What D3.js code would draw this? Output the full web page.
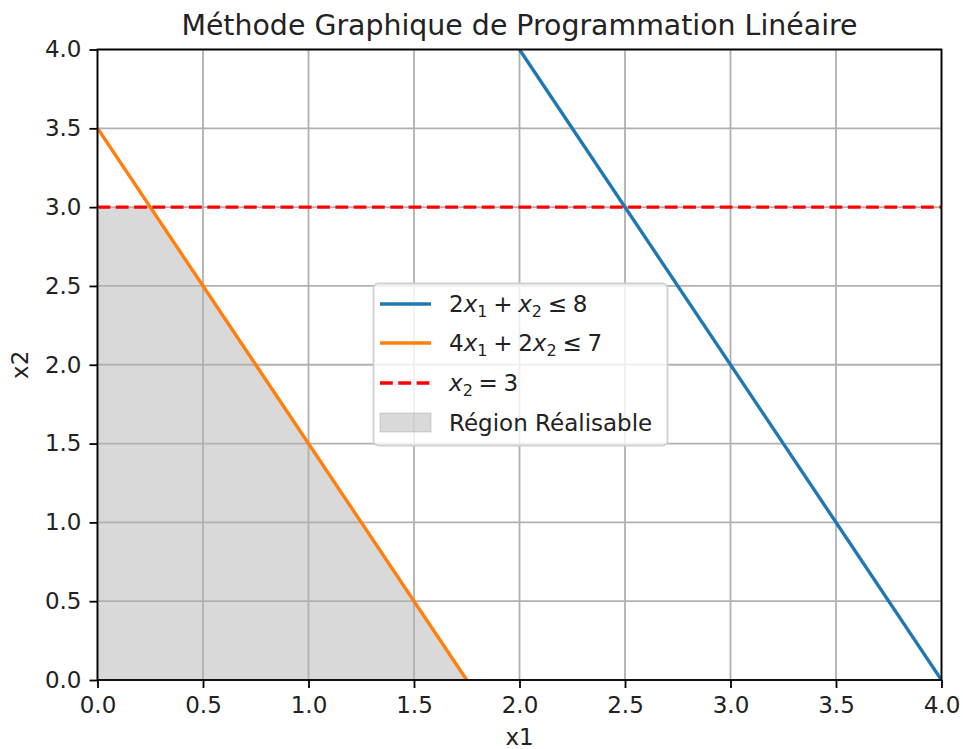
<!DOCTYPE html>
<html>
<head>
<meta charset="utf-8">
<script src="https://cdn.jsdelivr.net/npm/d3@7"></script>
<style>
  body { margin: 0; background: #fff; }
  svg { font-family: "DejaVu Sans", sans-serif; }
</style>
</head>
<body>
<svg width="963" height="749"></svg>
<script>
// data
const xTicks = [0, 0.5, 1, 1.5, 2, 2.5, 3, 3.5, 4];
const yTicks = [0, 0.5, 1, 1.5, 2, 2.5, 3, 3.5, 4];
const line1 = [[2, 4], [4, 0]];        // 2x1 + x2 <= 8
const line2 = [[0, 3.5], [1.75, 0]];   // 4x1 + 2x2 <= 7
const line3 = [[0, 3], [4, 3]];        // x2 = 3
const region = [[0, 0], [0, 3], [0.25, 3], [1.75, 0]];

const svg = d3.select("svg");
const L = 97.5, R = 941.5, T = 49.5, B = 680;
const FS = 23;   // tick / legend / label font size
const LW = 3.4;  // plot line width
const DASH = "12.8,5.5";
const x = d3.scaleLinear().domain([0, 4]).range([L, R]);
const y = d3.scaleLinear().domain([0, 4]).range([B, T]);
const lineGen = d3.line().x(d => x(d[0])).y(d => y(d[1]));

svg.append("defs").append("clipPath").attr("id", "clip")
    .append("rect").attr("x", L).attr("y", T).attr("width", R - L).attr("height", B - T);

// feasible region
svg.append("path")
    .attr("d", lineGen(region) + "Z")
    .attr("fill", "#808080")
    .attr("fill-opacity", 0.3)
    .attr("clip-path", "url(#clip)");

// grid
svg.append("g").selectAll("line").data(xTicks).join("line")
    .attr("x1", d => x(d)).attr("x2", d => x(d))
    .attr("y1", T).attr("y2", B)
    .attr("stroke", "#b0b0b0").attr("stroke-width", 1.8);
svg.append("g").selectAll("line").data(yTicks).join("line")
    .attr("y1", d => y(d)).attr("y2", d => y(d))
    .attr("x1", L).attr("x2", R)
    .attr("stroke", "#b0b0b0").attr("stroke-width", 1.8);

const lines = svg.append("g").attr("clip-path", "url(#clip)");
lines.append("path").attr("d", lineGen(line1))
    .attr("fill", "none").attr("stroke", "#1f77b4").attr("stroke-width", LW);
lines.append("path").attr("d", lineGen(line2))
    .attr("fill", "none").attr("stroke", "#ff7f0e").attr("stroke-width", LW);
lines.append("path").attr("d", lineGen(line3))
    .attr("fill", "none").attr("stroke", "#ff0000").attr("stroke-width", LW)
    .attr("stroke-dasharray", DASH);

// axes
const xAxis = svg.append("g").attr("transform", `translate(0,${B})`)
    .call(d3.axisBottom(x).tickValues(xTicks).tickFormat(d3.format(".1f")).tickSize(8).tickPadding(9));
const yAxis = svg.append("g").attr("transform", `translate(${L},0)`)
    .call(d3.axisLeft(y).tickValues(yTicks).tickFormat(d3.format(".1f")).tickSize(8).tickPadding(8));
[xAxis, yAxis].forEach(a => {
    a.select(".domain").remove();
    a.selectAll(".tick line").attr("stroke", "#000").attr("stroke-width", 1.8);
    a.selectAll("text").attr("font-size", FS).attr("fill", "#222")
        .attr("font-family", "DejaVu Sans");
});

// frame
svg.append("rect").attr("x", L).attr("y", T).attr("width", R - L).attr("height", B - T)
    .attr("fill", "none").attr("stroke", "#000").attr("stroke-width", 1.8);

// title and labels
svg.append("text").attr("x", (L + R) / 2).attr("y", 35)
    .attr("text-anchor", "middle").attr("font-size", 28.4).attr("fill", "#222")
    .text("Méthode Graphique de Programmation Linéaire");
svg.append("text").attr("x", (L + R) / 2).attr("y", 745)
    .attr("text-anchor", "middle").attr("font-size", FS).attr("fill", "#222").text("x1");
svg.append("text").attr("transform", `translate(28,${(T + B) / 2}) rotate(-90)`)
    .attr("text-anchor", "middle").attr("font-size", FS).attr("fill", "#222").text("x2");

// legend
const leg = svg.append("g");
leg.append("rect").attr("x", 373.5).attr("y", 283.5).attr("width", 294).attr("height", 162)
    .attr("rx", 5).attr("fill", "#fff").attr("fill-opacity", 0.8)
    .attr("stroke", "#d0d0d0").attr("stroke-width", 1.8);

const sp = "\u2005";
const rows = [
    {y: 304, kind: "line", color: "#1f77b4", parts: [["2", "n"], ["x", "i"], ["1", "s"], [sp + "+" + sp, "n"], ["x", "i"], ["2", "s"], [sp + "≤" + sp + "8", "n"]]},
    {y: 343, kind: "line", color: "#ff7f0e", parts: [["4", "n"], ["x", "i"], ["1", "s"], [sp + "+" + sp + "2", "n"], ["x", "i"], ["2", "s"], [sp + "≤" + sp + "7", "n"]]},
    {y: 383, kind: "dash", color: "#ff0000", parts: [["x", "i"], ["2", "s"], [sp + "=" + sp + "3", "n"]]},
    {y: 423, kind: "patch", parts: [["Région Réalisable", "n"]]}
];
rows.forEach(r => {
    if (r.kind === "patch") {
        leg.append("rect").attr("x", 380).attr("y", r.y - 10).attr("width", 51).attr("height", 19)
            .attr("fill", "#808080").attr("fill-opacity", 0.3)
            .attr("stroke", "#808080").attr("stroke-opacity", 0.3);
    } else {
        leg.append("line").attr("x1", 380).attr("x2", 431).attr("y1", r.y).attr("y2", r.y)
            .attr("stroke", r.color).attr("stroke-width", LW)
            .attr("stroke-dasharray", r.kind === "dash" ? DASH : null);
    }
    const t = leg.append("text").attr("x", 449).attr("y", r.y + 8)
        .attr("font-size", FS).attr("fill", "#222").attr("xml:space", "preserve");
    let prevSub = false;
    r.parts.forEach(p => {
        const s = t.append("tspan").text(p[0]);
        if (p[1] === "i") s.attr("font-style", "italic");
        if (p[1] === "s") s.attr("font-size", 16).attr("dy", 5);
        else if (prevSub) s.attr("dy", -5);
        prevSub = p[1] === "s";
    });
});
</script>
</body>
</html>
